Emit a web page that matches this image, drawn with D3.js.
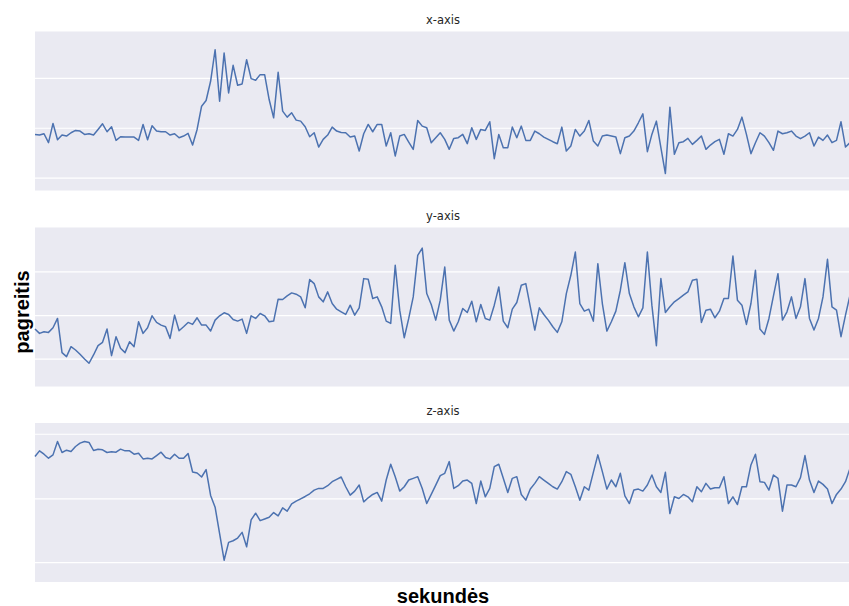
<!DOCTYPE html>
<html>
<head>
<meta charset="utf-8">
<script src="https://cdn.jsdelivr.net/npm/d3@7"></script>
<style>
    body { margin: 0; background: #fff; }
    svg { display: block; }
</style>
</head>
<body>
<div class="chart"></div>
<script>
// acceleration readings, one value per sample
var accX = [
    -0.20, -0.22, -0.18, -0.45, 0.13, -0.36, -0.22, -0.25, -0.15, -0.08,
    -0.10, -0.20, -0.18, -0.22, -0.05, 0.12, -0.12, 0.03, -0.38, -0.27,
    -0.28, -0.28, -0.28, -0.38, 0.10, -0.36, 0.06, -0.10, -0.12, -0.12,
    -0.22, -0.18, -0.30, -0.25, -0.17, -0.52, -0.05, 0.65, 0.82, 1.40,
    2.35, 0.80, 2.25, 1.05, 1.88, 1.28, 1.32, 2.05, 1.48, 1.43,
    1.60, 1.60, 0.85, 0.30, 1.67, 0.50, 0.32, 0.45, 0.23, 0.20,
    0.03, -0.27, -0.15, -0.58, -0.35, -0.22, 0.02, -0.10, -0.14, -0.15,
    -0.28, -0.25, -0.70, -0.18, 0.10, -0.12, 0.10, 0.10, -0.55, -0.15,
    -0.85, -0.25, -0.20, -0.43, -0.65, 0.22, 0.05, 0.00, -0.45, -0.30,
    -0.15, -0.35, -0.65, -0.32, -0.30, -0.20, -0.48, 0.00, -0.35, -0.05,
    -0.08, 0.18, -0.93, -0.20, -0.60, -0.60, 0.02, -0.30, 0.05, -0.38,
    -0.38, -0.10, -0.18, -0.28, -0.35, -0.42, -0.48, 0.02, -0.70, -0.55,
    -0.05, -0.25, -0.10, 0.22, -0.40, -0.55, -0.25, -0.22, -0.25, -0.28,
    -0.78, -0.30, -0.25, -0.10, 0.15, 0.42, -0.72, -0.20, 0.20, -0.60,
    -1.38, 0.62, -0.80, -0.45, -0.42, -0.32, -0.50, -0.38, -0.25, -0.65,
    -0.52, -0.42, -0.35, -0.80, -0.18, -0.25, -0.05, 0.32, -0.20, -0.78,
    -0.45, -0.15, -0.25, -0.45, -0.68, -0.10, -0.18, -0.15, -0.10, -0.25,
    -0.33, -0.25, -0.15, -0.55, -0.28, -0.38, -0.22, -0.45, -0.38, 0.18,
    -0.58, -0.45
];
var accY = [
    -0.42, -0.55, -0.50, -0.52, -0.38, -0.10, -1.13, -1.25, -0.95, -1.05,
    -1.18, -1.32, -1.45, -1.20, -0.92, -0.82, -0.42, -1.22, -0.65, -1.00,
    -1.13, -0.80, -0.95, -0.20, -0.55, -0.38, -0.02, -0.22, -0.30, -0.35,
    -0.70, 0.00, -0.47, -0.35, -0.22, -0.28, -0.08, -0.30, -0.30, -0.48,
    -0.15, -0.02, 0.07, 0.02, -0.13, -0.18, -0.12, -0.55, -0.02, -0.10,
    0.05, -0.02, -0.20, -0.18, 0.48, 0.47, 0.58, 0.67, 0.63, 0.55,
    0.22, 1.07, 0.95, 0.55, 0.40, 0.70, 0.35, 0.18, 0.10, 0.02,
    0.30, 0.00, 0.22, 1.10, 1.08, 0.50, 0.55, 0.25, -0.18, -0.25,
    1.50, 0.15, -0.68, -0.10, 0.55, 1.80, 2.02, 0.65, 0.32, -0.15,
    0.45, 1.45, -0.15, -0.48, -0.20, 0.20, 0.08, 0.42, -0.20, 0.32,
    -0.10, -0.15, 0.30, 0.85, -0.18, -0.38, 0.18, 0.38, 0.90, 0.95,
    0.25, -0.45, 0.22, 0.02, -0.15, -0.35, -0.52, -0.20, 0.65, 1.20,
    1.90, 0.35, 0.12, 0.18, -0.18, 1.55, 0.35, -0.48, -0.20, 0.12,
    0.75, 1.58, 0.65, 0.25, -0.05, 0.22, 1.90, 0.30, -0.92, 1.10,
    0.08, 0.25, 0.40, 0.50, 0.60, 0.70, 1.05, 1.08, -0.22, 0.15,
    0.18, -0.08, 0.12, 0.50, 0.50, 1.78, 0.45, 0.30, -0.28, 0.35,
    1.35, -0.42, -0.58, -0.10, 0.58, 1.25, -0.15, 0.10, 0.55, -0.10,
    0.25, 1.10, -0.10, -0.45, -0.10, 0.55, 1.68, 0.25, 0.15, -0.65,
    0.00, 0.60
];
var accZ = [
    1.25, 1.42, 1.32, 1.20, 1.30, 1.70, 1.37, 1.44, 1.40, 1.55,
    1.65, 1.70, 1.67, 1.43, 1.47, 1.45, 1.37, 1.39, 1.38, 1.47,
    1.42, 1.42, 1.32, 1.35, 1.18, 1.20, 1.18, 1.28, 1.38, 1.22,
    1.18, 1.32, 1.20, 1.20, 1.34, 0.79, 0.76, 0.64, 0.86, 0.09,
    -0.26, -1.05, -1.84, -1.31, -1.26, -1.18, -1.01, -1.44, -0.64, -0.44,
    -0.66, -0.61, -0.56, -0.42, -0.52, -0.28, -0.38, -0.16, -0.08, -0.01,
    0.06, 0.14, 0.25, 0.30, 0.30, 0.38, 0.50, 0.57, 0.64, 0.35,
    0.10, 0.22, 0.40, -0.10, 0.02, 0.12, 0.18, -0.08, 0.55, 1.02,
    0.65, 0.22, 0.35, 0.55, 0.60, 0.65, 0.30, -0.15, 0.12, 0.40,
    0.68, 0.75, 1.10, 0.30, 0.38, 0.52, 0.55, 0.45, -0.15, 0.52,
    0.05, 0.30, 0.95, 1.02, 0.60, 0.18, 0.60, 0.65, 0.12, -0.05,
    0.28, 0.45, 0.65, 0.55, 0.45, 0.35, 0.28, 0.50, 0.80, 0.72,
    0.35, -0.05, 0.35, 0.25, 0.78, 1.30, 0.80, 0.28, 0.55, 0.35,
    0.75, 0.08, -0.15, 0.25, 0.28, 0.22, 0.40, 0.70, 0.35, 0.18,
    0.78, -0.45, 0.05, 0.00, 0.12, 0.05, -0.10, 0.35, 0.20, 0.45,
    0.28, 0.32, 0.32, 0.65, -0.15, 0.05, -0.18, 0.35, 0.35, 1.00,
    1.32, 0.50, 0.48, 0.25, 0.70, 0.60, -0.38, 0.40, 0.40, 0.35,
    0.62, 1.28, 0.55, 0.18, 0.52, 0.42, 0.28, -0.15, 0.12, 0.28,
    0.50, 0.90
];

var titles = ["x-axis", "y-axis", "z-axis"];
var series = [accX, accY, accZ];
// y-limits and grid ticks of each subplot
var yLimits = [[-1.89, 2.9], [-2.15, 2.64], [-2.49, 2.25]];
var yTicks = [[-1.5, 0, 1.5], [-1.31, 0, 1.32], [-1.9, 0, 1.93]];
var xLabel = "sekundės";
var yLabel = "pagreitis";

var width = 849, height = 606;
var left = 35, right = 851;
var panelTops = [31.5, 227.5, 423];
var panelH = 159;

var svg = d3.select(".chart")
    .append("svg")
    .attr("width", width)
    .attr("height", height);

var x = d3.scaleLinear()
    .domain([0, accX.length - 1])
    .range([left, 850]);

series.forEach(function(data, k) {
    var top = panelTops[k];
    var y = d3.scaleLinear()
        .domain(yLimits[k])
        .range([top + panelH, top]);

    var g = svg.append("g").attr("class", "panel");

    // seaborn darkgrid background
    g.append("rect")
        .attr("x", left)
        .attr("y", top)
        .attr("width", right - left)
        .attr("height", panelH)
        .attr("fill", "#eaeaf2");

    // horizontal grid only, tick labels hidden
    var grid = d3.axisLeft(y)
        .tickValues(yTicks[k])
        .tickSize(-(right - left))
        .tickFormat("");
    g.append("g")
        .attr("transform", "translate(" + left + ",0)")
        .call(grid)
        .call(function(s) {
            s.select(".domain").remove();
            s.selectAll(".tick line").attr("stroke", "#fff").attr("stroke-width", 1.2);
        });

    var line = d3.line()
        .x(function(d, i) { return x(i); })
        .y(function(d) { return y(d); });

    g.append("path")
        .datum(data)
        .attr("fill", "none")
        .attr("stroke", "#4c72b0")
        .attr("stroke-width", 1.5)
        .attr("stroke-linejoin", "round")
        .attr("d", line);

    g.append("text")
        .attr("x", (left + right) / 2)
        .attr("y", top - 8)
        .attr("text-anchor", "middle")
        .attr("font-family", "DejaVu Sans, sans-serif")
        .attr("font-size", 11.5)
        .attr("fill", "#262626")
        .text(titles[k]);
});

// axis labels
svg.append("text")
    .attr("x", 443)
    .attr("y", 603)
    .attr("text-anchor", "middle")
    .attr("font-family", "Liberation Sans, Arial, sans-serif")
    .attr("font-weight", "bold")
    .attr("font-size", 20)
    .attr("fill", "#000")
    .text(xLabel);

svg.append("text")
    .attr("transform", "translate(29,312)rotate(-90)")
    .attr("text-anchor", "middle")
    .attr("font-family", "Liberation Sans, Arial, sans-serif")
    .attr("font-weight", "bold")
    .attr("font-size", 20)
    .attr("fill", "#000")
    .text(yLabel);
</script>
</body>
</html>
